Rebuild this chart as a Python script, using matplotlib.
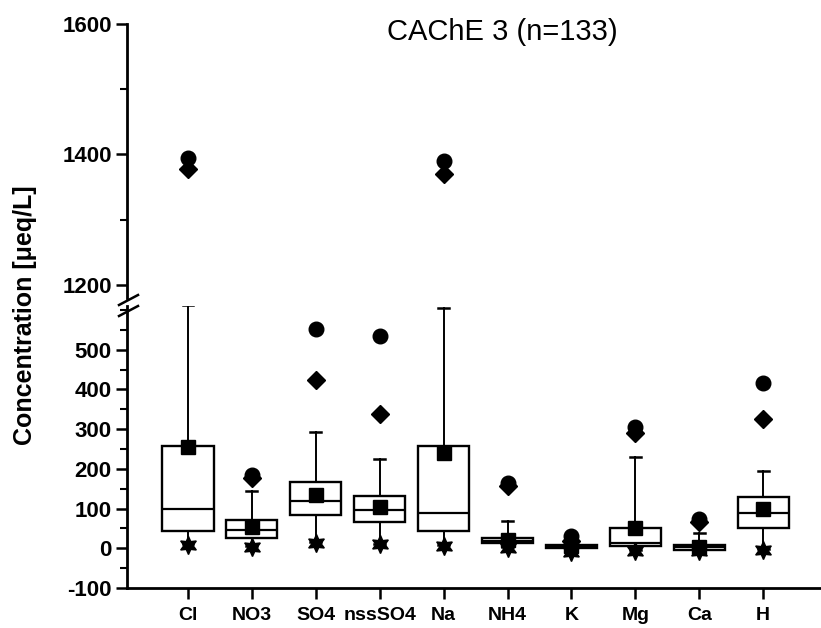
import matplotlib
matplotlib.use("Agg")
import matplotlib.pyplot as plt
from matplotlib.lines import Line2D
from matplotlib.ticker import FixedLocator

plt.rcParams['font.family'] = ['Liberation Sans', 'DejaVu Sans']
plt.rcParams['axes.unicode_minus'] = False

categories = ['Cl', 'NO3', 'SO4', 'nssSO4', 'Na', 'NH4', 'K', 'Mg', 'Ca', 'H']
q1 = [44, 26, 83, 65, 44, 14, 1, 6, -4, 50]
median = [98, 45, 119, 96, 88, 18, 4, 13, 2, 90]
q3 = [258, 71, 166, 131, 258, 27, 8, 50, 9, 130]
mean = [256, 54, 134, 104, 240, 22, 6, 52, 3, 98]
whis_hi = [612, 145, 294, 225, 606, 69, 14, 230, 38, 195]
whis_lo = [10, 5, 16, 12, 8, 3, -2, -4, -6, -2]
vmax = [1395, 184, 553, 535, 1390, 165, 32, 306, 74, 417]
p99 = [1377, 178, 424, 338, 1370, 158, 18, 290, 66, 325]
vmin = [8, 3, 14, 10, 6, 0, -10, -8, -8, -4]

title = 'CAChE 3 (n=133)'
ylabel = 'Concentration [\u03bceq/L]'

W, H = 821, 628
fig = plt.figure(figsize=(W / 100, H / 100), dpi=100)

def fx(px):
    return px / W

def fy(py):
    return 1 - py / H

left = fx(127)
ax_bot = fig.add_axes([left, fy(588), 1 - left, fy(306) - fy(588)])
ax_top = fig.add_axes([left, fy(298), 1 - left, fy(24) - fy(298)], sharex=ax_bot)

pos = list(range(1, len(categories) + 1))
stats = []
for i in range(len(categories)):
    stats.append(dict(med=median[i], q1=q1[i], q3=q3[i], whislo=whis_lo[i],
                      whishi=whis_hi[i], mean=mean[i], fliers=[]))

for ax in (ax_bot, ax_top):
    ax.bxp(stats, positions=pos, widths=0.8, capwidths=0.17, showmeans=True,
           showfliers=False, patch_artist=True,
           boxprops=dict(facecolor='white', edgecolor='black', linewidth=1.7),
           medianprops=dict(color='black', linewidth=1.6),
           whiskerprops=dict(color='black', linewidth=1.4),
           capprops=dict(color='black', linewidth=1.8),
           meanprops=dict(marker='s', markerfacecolor='black', markeredgecolor='black',
                          markersize=9.5))
    ax.plot(pos, vmax, linestyle='none', marker='o', color='black', markersize=10.5)
    ax.plot(pos, p99, linestyle='none', marker='D', color='black', markersize=9)
    ax.plot(pos, vmin, linestyle='none', marker=(6, 1, 0), color='black', markersize=13)
    for s in ('top', 'right'):
        ax.spines[s].set_visible(False)
    ax.spines['left'].set_linewidth(2.0)
    ax.tick_params(axis='y', which='major', direction='out', length=8, width=1.8,
                   labelsize=16, pad=3)
    ax.tick_params(axis='y', which='minor', direction='out', length=5, width=1.5)

ax_bot.set_xlim(0.045, 10.906)
ax_bot.set_ylim(-100, 610)
ax_top.set_ylim(1180, 1600)

ax_bot.yaxis.set_major_locator(FixedLocator([-100, 0, 100, 200, 300, 400, 500]))
ax_bot.yaxis.set_minor_locator(FixedLocator([-50, 50, 150, 250, 350, 450, 550, 600]))
ax_top.yaxis.set_major_locator(FixedLocator([1200, 1400, 1600]))
ax_top.yaxis.set_minor_locator(FixedLocator([1300, 1500]))

ax_top.spines['bottom'].set_visible(False)
ax_top.tick_params(axis='x', which='both', bottom=False, labelbottom=False)

ax_bot.spines['bottom'].set_linewidth(2.0)
ax_bot.set_xticks(pos)
ax_bot.set_xticklabels(categories)
ax_bot.tick_params(axis='x', which='major', direction='out', length=8, width=1.8,
                   labelsize=14, pad=6)
for lab in ax_bot.get_xticklabels():
    lab.set_fontweight('bold')

for ax in (ax_bot, ax_top):
    for lab in ax.get_yticklabels():
        lab.set_fontweight('bold')

# break marks on the y axis
for y0 in (305, 316):
    fig.add_artist(Line2D([fx(119), fx(138)], [fy(y0), fy(y0 - 10)],
                          color='black', linewidth=1.8))

fig.text(fx(502), fy(32), title, ha='center', va='center', fontsize=21)
fig.text(fx(25), fy(315), ylabel, ha='center', va='center', rotation=90,
         fontsize=18, fontweight='bold')

fig.savefig('out.png', dpi=100)
